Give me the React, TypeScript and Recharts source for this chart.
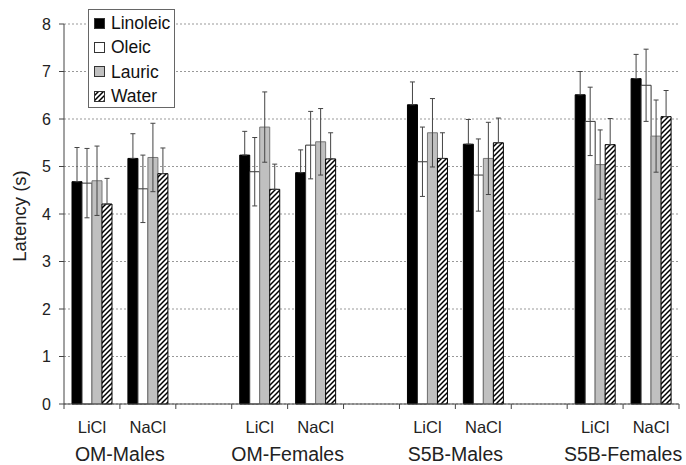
import React from "react";
import {
  BarChart,
  Bar,
  ErrorBar,
  CartesianGrid,
  XAxis,
  YAxis,
  Legend,
} from "recharts";

// categories (empty slots separate the groups)
const salts = ["LiCl", "NaCl", "", "LiCl", "NaCl", "", "LiCl", "NaCl", "", "LiCl", "NaCl"];
const groups = ["OM-Males", "OM-Males", "", "OM-Females", "OM-Females", "", "S5B-Males", "S5B-Males", "", "S5B-Females", "S5B-Females"];
const seriesNames = ["Linoleic", "Oleic", "Lauric", "Water"];

// mean latency (s)
const linoleic = [4.68, 5.17, null, 5.24, 4.87, null, 6.3, 5.47, null, 6.51, 6.85];
const oleic = [4.65, 4.53, null, 4.89, 5.45, null, 5.1, 4.82, null, 5.95, 6.71];
const lauric = [4.7, 5.19, null, 5.83, 5.52, null, 5.71, 5.17, null, 5.04, 5.64];
const water = [4.21, 4.85, null, 4.52, 5.16, null, 5.17, 5.5, null, 5.46, 6.05];

// error (SEM)
const linoleicErr = [0.72, 0.52, null, 0.5, 0.48, null, 0.48, 0.52, null, 0.49, 0.51];
const oleicErr = [0.73, 0.71, null, 0.72, 0.71, null, 0.73, 0.76, null, 0.72, 0.76];
const lauricErr = [0.73, 0.72, null, 0.74, 0.7, null, 0.72, 0.76, null, 0.73, 0.76];
const waterErr = [0.54, 0.54, null, 0.53, 0.55, null, 0.54, 0.52, null, 0.55, 0.55];

const yTicks = [0, 1, 2, 3, 4, 5, 6, 7, 8];

const W = 686;
const H = 465;
const M = { top: 24, right: 7, left: 0, bottom: 0 };
const Y_W = 64;
const X_H = 61;
const FONT = "'Liberation Sans', Arial, sans-serif";

// linoleic & water: only the upper whisker shows above the solid bar
const upOnly = (e: number | null) => (e == null ? null : [0, e]);

const rows = salts.map((s, i) => ({
  key: `${groups[i]}|${s}|${i}`,
  salt: s,
  group: groups[i],
  linoleic: linoleic[i],
  oleic: oleic[i],
  lauric: lauric[i],
  water: water[i],
  linoleicErr: upOnly(linoleicErr[i]),
  oleicErr: oleicErr[i],
  lauricErr: lauricErr[i],
  waterErr: upOnly(waterErr[i]),
}));

const bw = (W - M.left - M.right - Y_W) / salts.length;

function SaltTick(props: any) {
  const { x, y, index } = props;
  const r = rows[index];
  if (!r) return null;
  const last = index === rows.length - 1;
  return (
    <g>
      <line x1={x - bw / 2} x2={x - bw / 2} y1={y} y2={y + 5} stroke="#444" />
      {last && <line x1={x + bw / 2} x2={x + bw / 2} y1={y} y2={y + 5} stroke="#444" />}
      {r.salt && (
        <text x={x} y={y + 29} textAnchor="middle" fontSize={16.5} fontFamily={FONT} fill="#222">
          {r.salt}
        </text>
      )}
      {r.salt === "LiCl" && (
        <text x={x + bw / 2} y={y + 57} textAnchor="middle" fontSize={19.5} fontFamily={FONT} fill="#222">
          {r.group}
        </text>
      )}
    </g>
  );
}

function YLabel(props: any) {
  const vb = props.viewBox || { x: 0, y: 0, height: 0 };
  const cx = vb.x + 19;
  const cy = vb.y + vb.height / 2 + 2;
  return (
    <text
      x={cx}
      y={cy}
      transform={`rotate(-90 ${cx} ${cy})`}
      textAnchor="middle"
      dominantBaseline="central"
      fontSize={18.5}
      fontFamily={FONT}
      fill="#222"
    >
      Latency (s)
    </text>
  );
}

function LegendBox(props: any) {
  const payload = [...(props.payload || [])].sort(
    (a: any, b: any) => seriesNames.indexOf(a.value) - seriesNames.indexOf(b.value)
  );
  return (
    <div
      style={{
        width: 87,
        height: 99,
        boxSizing: "border-box",
        border: "1px solid #666",
        background: "#fff",
        padding: "1px 0 0 5px",
        fontFamily: FONT,
      }}
    >
      {payload.map((p: any) => (
        <div key={p.value} style={{ display: "flex", alignItems: "center", height: 24.3 }}>
          <svg width={11} height={11} style={{ flex: "none" }}>
            <rect x={0.5} y={0.5} width={10} height={10} fill={p.color} stroke="#333" />
          </svg>
          <span style={{ marginLeft: 6, fontSize: 17.5, color: "#111", lineHeight: "18px" }}>{p.value}</span>
        </div>
      ))}
    </div>
  );
}

export default function App() {
  return (
    <div style={{ position: "absolute", left: 0, top: 0, width: W, height: H, background: "#fff" }}>
      <BarChart width={W} height={H} data={rows} margin={M} barGap={0} barSize={10}>
        <defs>
          <pattern id="hatch" patternUnits="userSpaceOnUse" width={5} height={5}>
            <rect width={5} height={5} fill="#fff" />
            <path d="M-1,1 l2,-2 M0,5 l5,-5 M4,6 l2,-2" stroke="#000" strokeWidth={1.5} />
          </pattern>
        </defs>
        <CartesianGrid vertical={false} stroke="#999" strokeDasharray="2 2" />
        <XAxis
          dataKey="key"
          height={X_H}
          interval={0}
          tickLine={false}
          tickSize={0}
          tickMargin={0}
          axisLine={{ stroke: "#444" }}
          tick={<SaltTick />}
        />
        <YAxis
          width={Y_W}
          domain={[0, 8]}
          ticks={yTicks}
          interval={0}
          tickSize={5}
          tickMargin={8}
          axisLine={{ stroke: "#444" }}
          tickLine={{ stroke: "#444" }}
          tick={{ fontSize: 16, fill: "#222", fontFamily: FONT }}
          label={<YLabel />}
        />
        <Legend
          layout="vertical"
          align="center"
          verticalAlign="middle"
          content={<LegendBox />}
          wrapperStyle={{ position: "absolute", left: 88, top: 9, width: 87, height: 99 }}
        />
        <Bar dataKey="linoleic" name={seriesNames[0]} fill="#000" stroke="#000" isAnimationActive={false}>
          <ErrorBar dataKey="linoleicErr" width={2.5} stroke="#444" strokeWidth={1} direction="y" />
        </Bar>
        <Bar dataKey="oleic" name={seriesNames[1]} fill="#fff" stroke="#333" isAnimationActive={false}>
          <ErrorBar dataKey="oleicErr" width={2.5} stroke="#444" strokeWidth={1} direction="y" />
        </Bar>
        <Bar dataKey="lauric" name={seriesNames[2]} fill="#c0c0c0" stroke="#777" isAnimationActive={false}>
          <ErrorBar dataKey="lauricErr" width={2.5} stroke="#444" strokeWidth={1} direction="y" />
        </Bar>
        <Bar dataKey="water" name={seriesNames[3]} fill="url(#hatch)" stroke="#000" isAnimationActive={false}>
          <ErrorBar dataKey="waterErr" width={2.5} stroke="#444" strokeWidth={1} direction="y" />
        </Bar>
      </BarChart>
    </div>
  );
}
